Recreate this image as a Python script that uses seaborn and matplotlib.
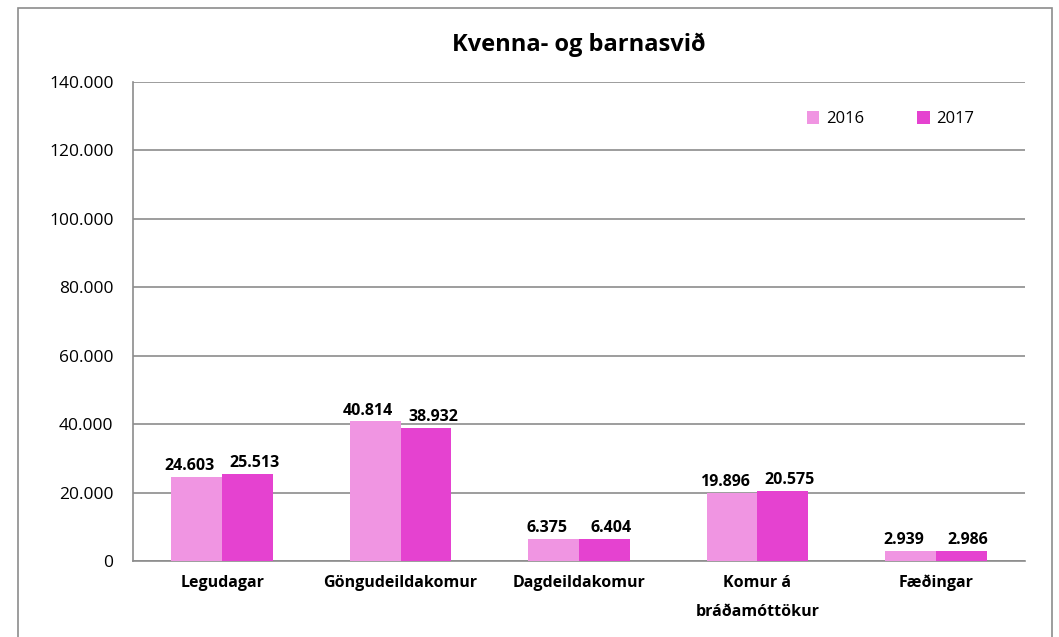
import pandas as pd
import matplotlib
matplotlib.use("Agg")
import matplotlib.pyplot as plt
import seaborn as sns
from matplotlib.patches import Rectangle
from matplotlib.ticker import FuncFormatter

# data
categories = ["Legudagar", "Göngudeildakomur", "Dagdeildakomur",
              "Komur á\nbráðamóttökur", "Fæðingar"]
values_2016 = [24603, 40814, 6375, 19896, 2939]
values_2017 = [25513, 38932, 6404, 20575, 2986]
years = ["2016", "2017"]
colors = ["#F095E2", "#E542D0"]


def fmt(v):
    return f"{int(v):,}".replace(",", ".")


def main():
    df = pd.DataFrame({
        "flokkur": categories * 2,
        "ar": [years[0]] * 5 + [years[1]] * 5,
        "fjoldi": values_2016 + values_2017,
    })

    sns.set_theme(style="white")
    plt.rcParams["font.family"] = ["Open Sans", "DejaVu Sans"]
    plt.rcParams["text.color"] = "black"

    fig = plt.figure(figsize=(10.59, 6.37), dpi=100)
    ax = fig.add_axes([0.1256, 0.1193, 0.8424, 0.752])

    sns.barplot(data=df, x="flokkur", y="fjoldi", hue="ar", palette=colors,
                width=0.57, saturation=1, linewidth=0, ax=ax, zorder=3)

    # labels pushed a little apart so the pairs do not run into each other
    for cont, dx in zip(ax.containers, [-5, 5]):
        anns = ax.bar_label(cont, labels=[fmt(b.get_height()) for b in cont],
                            fontsize=11.5, fontweight="bold", color="black")
        for a in anns:
            a.xyann = (dx, 2)

    ax.set_ylim(0, 140000)
    ax.set_yticks(range(0, 140001, 20000))
    ax.yaxis.set_major_formatter(FuncFormatter(lambda v, p: fmt(v)))
    ax.set_xlim(-0.5, 4.5)
    ax.grid(axis="y", color="#8c8c8c", linewidth=1.2, zorder=0)
    ax.set_axisbelow(True)

    for s in ["left", "bottom"]:
        ax.spines[s].set_color("#8c8c8c")
        ax.spines[s].set_linewidth(1.2)
    ax.spines["right"].set_visible(False)
    ax.spines["top"].set_visible(False)

    ax.set_xlabel("")
    ax.set_ylabel("")
    ax.tick_params(axis="y", labelsize=12.5, pad=14, length=0, labelcolor="black")
    ax.tick_params(axis="x", labelsize=11.5, pad=10, length=0, labelcolor="black")
    for t in ax.get_xticklabels():
        t.set_fontweight("bold")
        t.set_linespacing(2.1)

    ax.set_title("Kvenna- og barnasvið", fontsize=17, fontweight="bold",
                 color="black", pad=22)

    ax.legend(loc="upper right", bbox_to_anchor=(0.96, 0.97), ncol=2,
              frameon=False, fontsize=12, handlelength=0.75,
              handleheight=0.75, columnspacing=3.2, handletextpad=0.4)

    fig.patches.append(Rectangle((18 / 1059, -0.05), 1034 / 1059, 1.05 - 8 / 637,
                                 transform=fig.transFigure, fill=False,
                                 edgecolor="#8c8c8c", linewidth=1.2))

    fig.savefig("out.png", dpi=100)


if __name__ == "__main__":
    main()
